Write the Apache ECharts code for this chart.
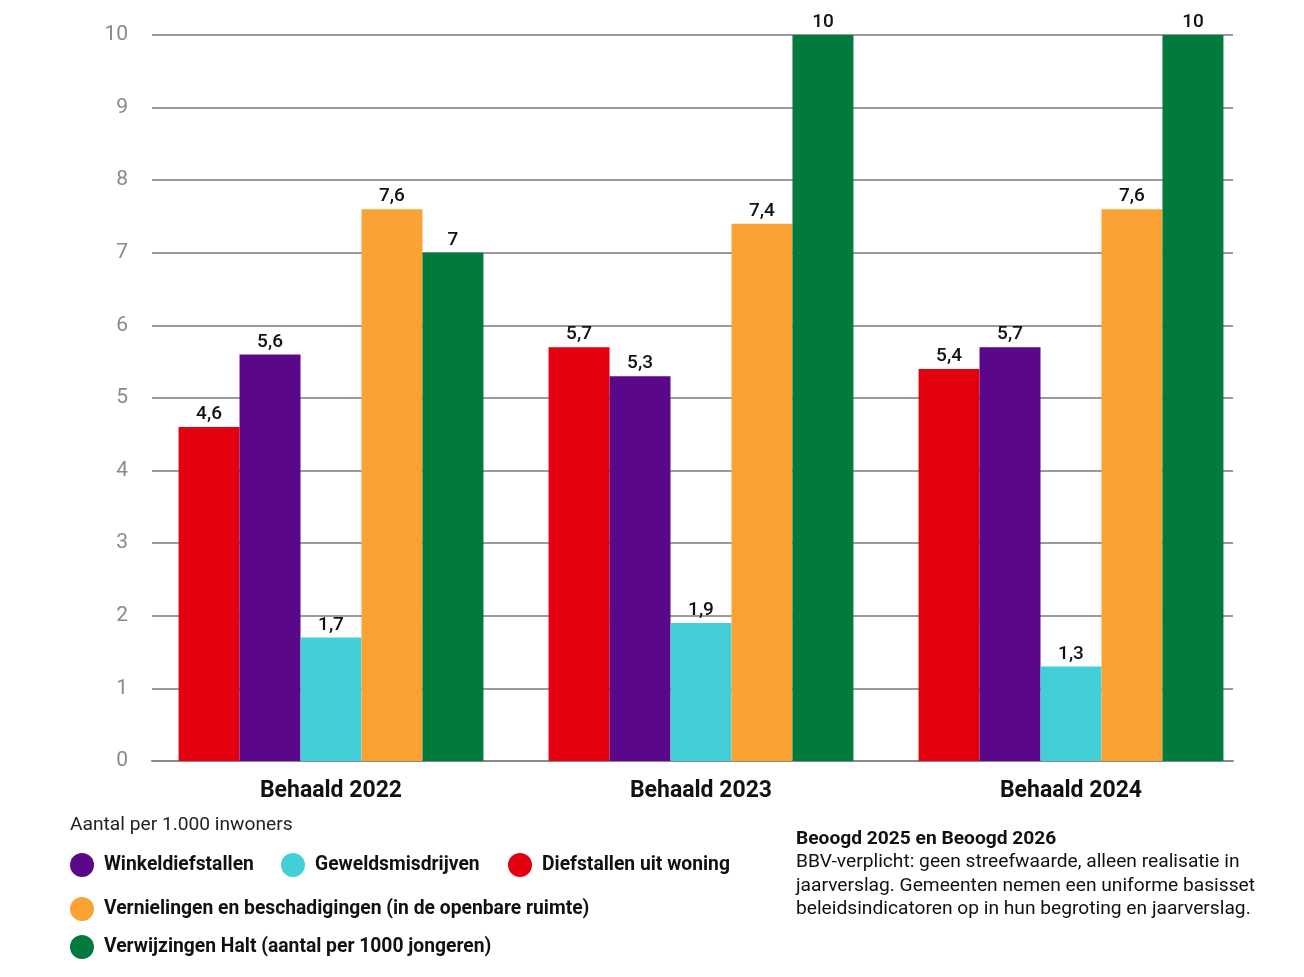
<!DOCTYPE html>
<html><head><meta charset="utf-8">
<script src="https://cdn.jsdelivr.net/npm/echarts@6/dist/echarts.min.js"></script>
<style>html,body{margin:0;padding:0;background:#fff}#c{width:1304px;height:977px}</style>
</head><body><div id="c"></div>
<script>
const categories = ['Behaald 2022', 'Behaald 2023', 'Behaald 2024'];
const diefstallen = [4.6, 5.7, 5.4];
const winkeldiefstallen = [5.6, 5.3, 5.7];
const geweld = [1.7, 1.9, 1.3];
const vernielingen = [7.6, 7.4, 7.6];
const halt = [7, 10, 10];
const seriesNames = ['Diefstallen uit woning', 'Winkeldiefstallen', 'Geweldsmisdrijven', 'Vernielingen en beschadigingen (in de openbare ruimte)', 'Verwijzingen Halt (aantal per 1000 jongeren)'];
const colors = ['#e3000f', '#5a0889', '#42cfd8', '#fba234', '#007a3d'];
const seriesData = [diefstallen, winkeldiefstallen, geweld, vernielingen, halt];

const chart = echarts.init(document.getElementById('c'));
const legendPos = [
  {name: seriesNames[1], left: 70, top: 853},
  {name: seriesNames[2], left: 281, top: 853},
  {name: seriesNames[0], left: 508, top: 853},
  {name: seriesNames[3], left: 70, top: 897},
  {name: seriesNames[4], left: 70, top: 935}
];
chart.setOption({
  animation: false,
  textStyle: {fontFamily: 'Roboto'},
  grid: [
    {left: 146, right: 48, top: 35, bottom: 216},
    {left: 152, right: 71, top: 35, bottom: 216}
  ],
  xAxis: [
    {
      type: 'category', data: categories, gridIndex: 0,
      axisLine: {show: false},
      axisTick: {show: false},
      axisLabel: {color: '#111', fontSize: 23, fontWeight: 'bold', margin: 19}
    },
    {
      type: 'category', data: categories, gridIndex: 1,
      axisLine: {lineStyle: {color: '#8a8a8a', width: 2}},
      axisTick: {show: false},
      axisLabel: {show: false}
    }
  ],
  yAxis: [
    {
      type: 'value', min: 0, max: 10, interval: 1, gridIndex: 0,
      axisLine: {show: false}, axisTick: {show: false},
      axisLabel: {show: false}, splitLine: {show: false}
    },
    {
      type: 'value', min: 0, max: 10, interval: 1, gridIndex: 1,
      axisLine: {show: false}, axisTick: {show: false},
      axisLabel: {color: '#8a8a8a', fontSize: 21, margin: 24},
      splitLine: {lineStyle: {color: '#9a9a9a', width: 2}}
    }
  ],
  legend: legendPos.map(l => ({
    data: [l.name], left: l.left, top: l.top, icon: 'circle', padding: 0,
    itemWidth: 24, itemHeight: 24, selectedMode: false,
    textStyle: {fontSize: 19.3, fontWeight: 'bold', color: '#111', padding: [0, 0, 0, 5]}
  })),
  series: seriesData.map((d, i) => ({
    name: seriesNames[i], type: 'bar', data: d, xAxisIndex: 0, yAxisIndex: 0, z: 3,
    itemStyle: {color: colors[i]},
    barGap: '0%', barCategoryGap: '17.6%',
    label: {show: true, position: 'top', distance: 3, color: '#111', fontSize: 19, fontWeight: 500,
      formatter: p => String(p.value).replace('.', ',')}
  })),
  graphic: [
    {type: 'text', left: 70, top: 816, style: {text: 'Aantal per 1.000 inwoners', fontSize: 19.2, fill: '#222', fontFamily: 'Roboto'}},
    {type: 'text', left: 796, top: 830, style: {text: 'Beoogd 2025 en Beoogd 2026', fontSize: 19.2, fontWeight: 'bold', fill: '#111', fontFamily: 'Roboto'}},
    {type: 'text', left: 796, top: 851, style: {text: 'BBV-verplicht: geen streefwaarde, alleen realisatie in\njaarverslag. Gemeenten nemen een uniforme basisset\nbeleidsindicatoren op in hun begroting en jaarverslag.', fontSize: 19.2, lineHeight: 23.3, fill: '#111', fontFamily: 'Roboto'}}
  ]
});
</script></body></html>
